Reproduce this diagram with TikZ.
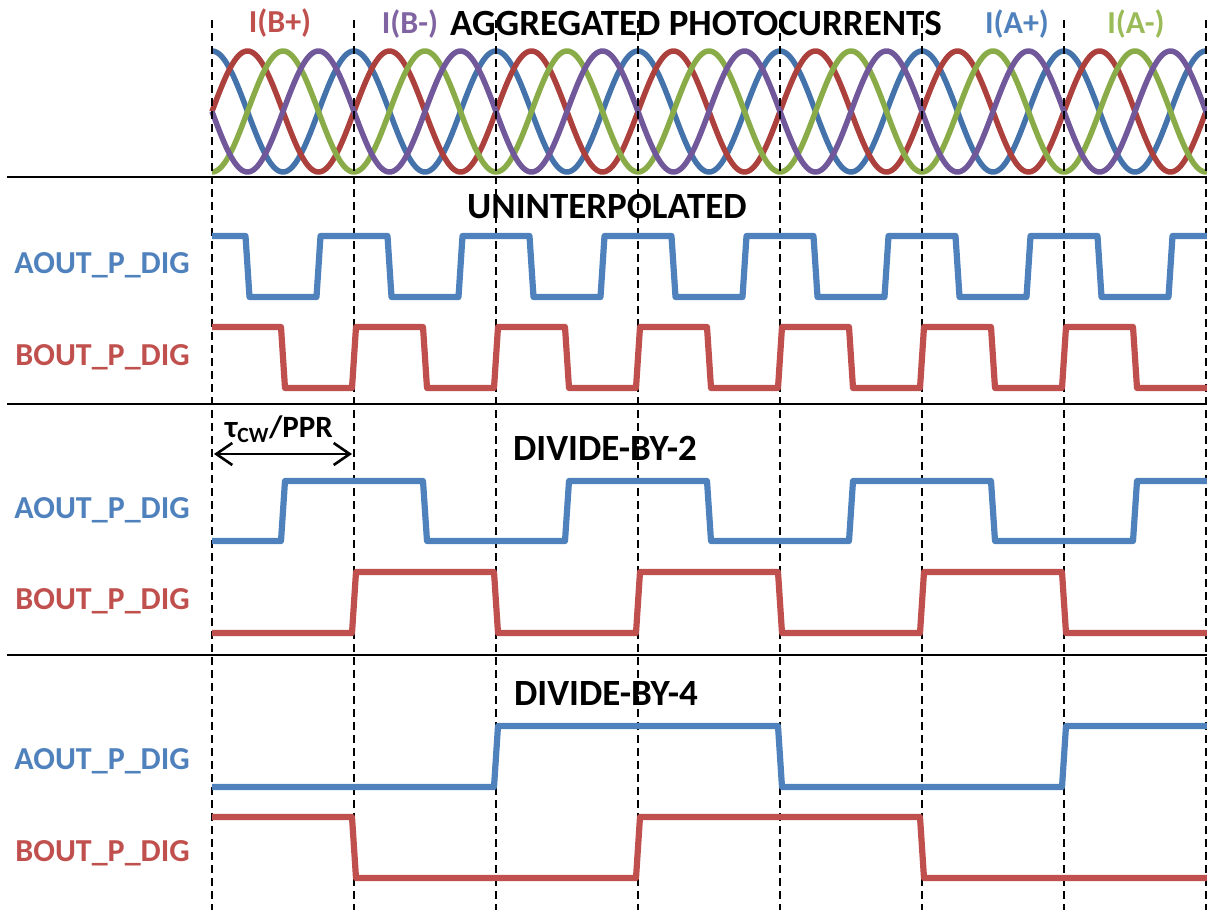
\documentclass[tikz,border=0pt]{standalone}
\usepackage{fontspec}
\setmainfont{Carlito}
\usetikzlibrary{arrows.meta}
\definecolor{tblue}{HTML}{4F81BD}
\definecolor{tred}{HTML}{C0504D}
\definecolor{tpurple}{HTML}{8064A2}
\definecolor{tgreen}{HTML}{9BBB59}
\definecolor{sblue}{HTML}{4472AA}
\definecolor{sred}{HTML}{AC403C}
\definecolor{sgreen}{HTML}{8AAC48}
\definecolor{spurple}{HTML}{71589A}
\tikzset{
  title/.style={font=\fontsize{37}{44}\selectfont\bfseries, inner sep=0pt, anchor=base},
  lbl/.style={font=\fontsize{32}{38}\selectfont\bfseries, inner sep=0pt, anchor=base},
  sig/.style={font=\fontsize{32}{38}\selectfont\bfseries, inner sep=0pt, anchor=base east},
  wave/.style={line width=6.2pt, line join=round},
  sine/.style={line width=5.5pt, line join=round},
  guide/.style={line width=2.6pt, dash pattern=on 8pt off 5pt},
  sep/.style={line width=2.4pt},
}
\begin{document}
\begin{tikzpicture}[x=1pt,y=-1pt]
\useasboundingbox (0,0) rectangle (1207,910);
% sinusoids
\foreach \s/\c in {0/sblue,35.5/sred,71/sgreen,106.5/spurple}{
  \draw[sine,\c] plot[domain=212:1207,samples=500,smooth] (\x,{111.5-60.5*cos(2.5352113*(\x-212-\s))});
}
% separators
\draw[sep] (7,177) -- (1207,177);
\draw[sep] (7,404) -- (1207,404);
\draw[sep] (7,655) -- (1207,655);
% guides
\foreach \k in {0,...,7}{
  \draw[guide] ({212+142*\k},20) -- ({212+142*\k},910);
}
% titles
\node[title] (tagg) at (696,35) {AGGREGATED PHOTOCURRENTS};
\node[lbl,tred] (ibp) at (280,32) {I(B+)};
\node[lbl,tpurple] (ibm) at (410,33) {I(B-)};
\node[lbl,tblue] (iap) at (1017,33) {I(A+)};
\node[lbl,tgreen] (iam) at (1136,33) {I(A-)};
\node[title] (tuni) at (607,218) {UNINTERPOLATED};
\node[title] (tdiv2) at (605,460) {DIVIDE-BY-2};
\node[title] (tdiv4) at (606,705) {DIVIDE-BY-4};
% signal labels
\node[sig,tblue] (a1) at (190,273) {AOUT\_P\_DIG};
\node[sig,tred] (b1) at (190,365) {BOUT\_P\_DIG};
\node[sig,tblue] (a2) at (190,518) {AOUT\_P\_DIG};
\node[sig,tred] (b2) at (190,609) {BOUT\_P\_DIG};
\node[sig,tblue] (a3) at (190,769) {AOUT\_P\_DIG};
\node[sig,tred] (b3) at (190,861) {BOUT\_P\_DIG};
% tau label and arrow
\node[lbl,font=\fontsize{31}{37}\selectfont\bfseries] (tau) at (279,437) {τ\textsubscript{CW}/PPR};
\coordinate (ta) at (214,454);
\coordinate (tb) at (352,454);
\draw[line width=2.6pt,{Straight Barb[length=16pt,width=22pt]}-{Straight Barb[length=16pt,width=22pt]}] (ta) -- (tb);
% uninterpolated
\draw[wave,tblue] (212,236) foreach \k in {0,...,6}{ -- ({245.5+142*\k},236) -- ({249.5+142*\k},297) -- ({316.5+142*\k},297) -- ({320.5+142*\k},236) } -- (1207,236);
\draw[wave,tred] (212,327) foreach \k in {0,...,5}{ -- ({281+142*\k},327) -- ({285+142*\k},388) -- ({352+142*\k},388) -- ({356+142*\k},327) } -- (1133,327) -- (1137,388) -- (1207,388);
% divide by 2
\draw[wave,tblue] (212,541) foreach \k in {0,1,2}{ -- ({281+284*\k},541) -- ({285+284*\k},481) -- ({423+284*\k},481) -- ({427+284*\k},541) } -- (1133,541) -- (1137,481) -- (1207,481);
\draw[wave,tred] (212,633) foreach \k in {0,1,2}{ -- ({352+284*\k},633) -- ({356+284*\k},572) -- ({494+284*\k},572) -- ({498+284*\k},633) } -- (1207,633);
% divide by 4
\draw[wave,tblue] (212,787) -- (494,787) -- (498,726) -- (778,726) -- (782,787) -- (1062,787) -- (1066,726) -- (1207,726);
\draw[wave,tred] (212,817) -- (352,817) -- (356,878) -- (636,878) -- (640,817) -- (920,817) -- (924,878) -- (1207,878);
\end{tikzpicture}
\end{document}
